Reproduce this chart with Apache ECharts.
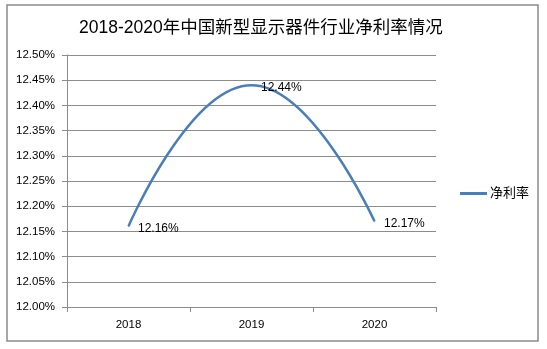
<!DOCTYPE html>
<html>
<head>
<meta charset="utf-8">
<script src="https://cdn.jsdelivr.net/npm/echarts@6/dist/echarts.min.js"></script>
<style>
  html, body { margin: 0; padding: 0; background: #fff; }
  #chart { width: 547px; height: 349px; }
</style>
</head>
<body>
<div id="chart"></div>
<script>
// Net profit margin of China's new display device industry, 2018-2020 (%)
const titleText = '2018-2020年中国新型显示器件行业净利率情况';
const years = ['2018', '2019', '2020'];
const netMargin = [12.16, 12.44, 12.17];
const seriesName = '净利率';
const yMin = 12.0;
const yMax = 12.5;
const yStep = 0.05;

const latin = '"Liberation Sans", "Noto Sans CJK SC", sans-serif';
const gridColor = '#8c8c8c';

const chart = echarts.init(document.getElementById('chart'));
chart.setOption({
  backgroundColor: '#fff',
  animation: false,
  title: {
    text: titleText,
    left: 79,
    top: 19,
    padding: 0,
    textStyle: { fontFamily: latin, fontSize: 17.5, fontWeight: 'normal', color: '#000' }
  },
  graphic: [{
    type: 'rect',
    shape: { x: 7, y: 5, width: 531, height: 336 },
    style: { fill: 'none', stroke: '#8a8a8a', lineWidth: 1.5 },
    silent: true
  }],
  legend: {
    data: [seriesName],
    left: 455,
    top: 182,
    icon: 'rect',
    itemWidth: 27,
    itemHeight: 3,
    itemGap: 4,
    textStyle: { fontFamily: latin, fontSize: 13, color: '#000', padding: [0, 0, 0, -2] }
  },
  grid: { left: 67, right: 111, top: 55, bottom: 42 },
  xAxis: {
    type: 'category',
    data: years,
    boundaryGap: true,
    axisLine: { lineStyle: { color: gridColor, width: 1 } },
    axisTick: { show: true, length: 5, lineStyle: { color: gridColor } },
    axisLabel: { fontFamily: latin, fontSize: 11.5, color: '#000', margin: 12 }
  },
  yAxis: {
    type: 'value',
    min: yMin,
    max: yMax,
    interval: yStep,
    axisLine: { show: true, lineStyle: { color: gridColor, width: 1 } },
    axisTick: { show: true, length: 5, lineStyle: { color: gridColor } },
    splitLine: { lineStyle: { color: gridColor, width: 1 } },
    axisLabel: {
      fontFamily: latin, fontSize: 11.5, color: '#000', margin: 12,
      formatter: v => v.toFixed(2) + '%'
    }
  },
  series: [{
    name: seriesName,
    type: 'line',
    data: netMargin,
    smooth: 0.5,
    symbol: 'circle',
    symbolSize: 1,
    showSymbol: true,
    itemStyle: { color: '#4a7ebb' },
    lineStyle: { color: '#4a7ebb', width: 2.5 },
    label: {
      show: true,
      position: 'right',
      distance: 9,
      offset: [0, 2],
      fontFamily: latin,
      fontSize: 12,
      color: '#000',
      formatter: p => p.value.toFixed(2) + '%'
    }
  }]
});
</script>
</body>
</html>
